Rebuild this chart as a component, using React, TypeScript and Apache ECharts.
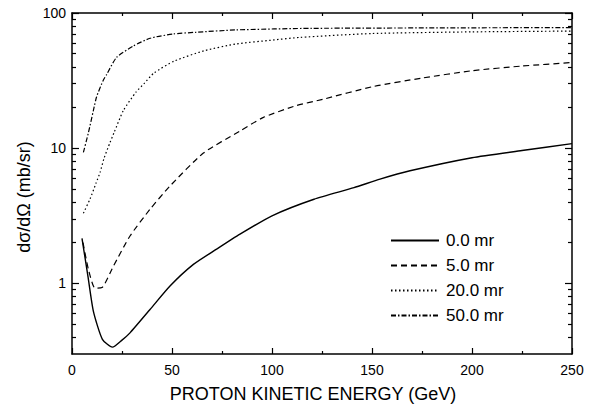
import React, { useEffect, useRef } from "react";
import * as echarts from "echarts";

const seriesNames = ["0.0 mr", "5.0 mr", "20.0 mr", "50.0 mr"];

const energy00 = [5, 8, 10.7, 15.2, 20.2, 25, 29, 39, 49, 60.7, 72.3, 84, 100, 121, 141, 154, 169, 200, 225, 250];
const value00 = [2.15, 1.12, 0.62, 0.385, 0.337, 0.38, 0.43, 0.64, 0.955, 1.38, 1.79, 2.31, 3.16, 4.19, 5.1, 5.9, 6.8, 8.5, 9.6, 10.8];

const energy05 = [5.5, 8.2, 11.5, 15, 20.7, 29, 39, 49, 65.7, 84, 95.7, 112, 125.5, 150.7, 175, 200, 225, 250];
const value05 = [2.0, 1.27, 0.92, 0.93, 1.34, 2.24, 3.53, 5.25, 9.2, 13.4, 16.9, 20.6, 23, 28.6, 33, 37.4, 40.5, 43];

const energy20 = [5.7, 9, 12, 14, 16, 19, 21, 25.7, 32, 36, 41, 51, 66, 82, 100, 114, 150, 200, 250];
const value20 = [3.3, 4.2, 5.5, 6.6, 8.4, 11, 13, 19, 26, 30, 36, 44, 52.5, 59, 63, 66, 70.5, 72.5, 73.5];

const energy50 = [5.7, 8.2, 10.7, 12.3, 15.7, 17.3, 22.3, 30.7, 39, 50.7, 62, 82, 120, 250];
const value50 = [9.3, 13, 19, 24, 32, 35, 47, 57, 65, 70, 72, 75, 77, 78];

const xTicks = [0, 50, 100, 150, 200, 250];
const yMajorTicks = [1, 10, 100];
const yMinorTicks = [0.4, 0.5, 0.6, 0.7, 0.8, 0.9, 2, 3, 4, 5, 6, 7, 8, 9, 20, 30, 40, 50, 60, 70, 80, 90];
const yMin = 0.3;
const yMax = 100;

const xTitle = "PROTON KINETIC ENERGY (GeV)";
const yTitle = "dσ/dΩ (mb/sr)";

const FONT = "'Liberation Sans', Arial, Helvetica, sans-serif";

function pairs(xs: number[], ys: number[]) {
  return xs.map((x, i) => [x, Math.log10(ys[i])]);
}

export default function App() {
  const ref = useRef<HTMLDivElement>(null);
  useEffect(() => {
    if (!ref.current) return;
    const chart = echarts.init(ref.current, undefined, { renderer: "svg" });
    const lmin = Math.log10(yMin);
    const lmax = Math.log10(yMax);
    const majorLog = yMajorTicks.map((v) => Math.log10(v));
    const minorLog = yMinorTicks.map((v) => Math.log10(v));
    const axisLine = { show: true, onZero: false, lineStyle: { color: "#000", width: 1.5 } };
    const hiddenLine = { show: true, onZero: false, lineStyle: { color: "#000", width: 0, opacity: 0 } };
    const tickStyle = { color: "#000", width: 1.2 };
    const xCommon = {
      type: "value" as const,
      min: 0,
      max: 250,
      interval: 50,
      axisLine,
      splitLine: { show: false },
      axisTick: { show: true, inside: true, length: 6, lineStyle: tickStyle },
      minorTick: { show: true, splitNumber: 2, length: 3, lineStyle: tickStyle },
    };
    const yCommon = {
      type: "value" as const,
      min: lmin,
      max: lmax,
      splitLine: { show: false },
    };
    const dashes: any[] = ["solid", [6, 4], [1.5, 2.5], [5, 2, 1.5, 2]];
    const datasets = [
      pairs(energy00, value00),
      pairs(energy05, value05),
      pairs(energy20, value20),
      pairs(energy50, value50),
    ];
    chart.setOption({
      animation: false,
      backgroundColor: "#fff",
      grid: { left: 72, right: 27, top: 13, bottom: 54, containLabel: false },
      xAxis: [
        {
          ...xCommon,
          position: "bottom",
          axisLabel: {
            show: true,
            margin: 9,
            fontSize: 14,
            color: "#000",
            fontFamily: FONT,
            customValues: xTicks,
          },
        },
        {
          ...xCommon,
          position: "top",
          axisLabel: { show: false },
        },
      ],
      yAxis: [
        {
          ...yCommon,
          position: "left",
          axisLine,
          axisTick: { show: true, inside: true, length: 7, customValues: majorLog, lineStyle: tickStyle },
          axisLabel: {
            show: true,
            margin: 6,
            fontSize: 14,
            color: "#000",
            fontFamily: FONT,
            customValues: majorLog,
            formatter: (v: number) => String(Math.round(Math.pow(10, v))),
          },
        },
        {
          ...yCommon,
          position: "right",
          axisLine,
          axisTick: { show: true, inside: true, length: 7, customValues: majorLog, lineStyle: tickStyle },
          axisLabel: { show: false },
        },
        {
          ...yCommon,
          position: "left",
          axisLine: hiddenLine,
          axisTick: { show: true, inside: true, length: 4, customValues: minorLog, lineStyle: tickStyle },
          axisLabel: { show: false },
        },
        {
          ...yCommon,
          position: "right",
          axisLine: hiddenLine,
          axisTick: { show: true, inside: true, length: 4, customValues: minorLog, lineStyle: tickStyle },
          axisLabel: { show: false },
        },
      ],
      legend: {
        show: true,
        orient: "vertical",
        left: 385,
        top: 227,
        itemWidth: 48,
        itemHeight: 14,
        itemGap: 8,
        data: seriesNames,
        itemStyle: { opacity: 0, borderWidth: 0 },
        textStyle: { fontSize: 17, color: "#000", fontFamily: FONT, padding: [0, 0, 0, 2] },
      },
      graphic: [
        {
          type: "text",
          x: 313,
          y: 394,
          style: {
            text: xTitle,
            fontSize: 18,
            fontFamily: FONT,
            fill: "#000",
            textAlign: "center",
            textVerticalAlign: "middle",
          },
        },
        {
          type: "text",
          x: 24,
          y: 197,
          rotation: Math.PI / 2,
          style: {
            text: yTitle,
            fontSize: 18,
            fontFamily: FONT,
            fill: "#000",
            textAlign: "center",
            textVerticalAlign: "middle",
          },
        },
      ],
      series: datasets.map((d, i) => ({
        name: seriesNames[i],
        type: "line",
        data: d,
        xAxisIndex: 0,
        yAxisIndex: 0,
        symbol: "none",
        showSymbol: false,
        smooth: 0.2,
        clip: true,
        lineStyle: { color: "#000", width: i === 0 ? 1.4 : 1.2, type: dashes[i] },
        itemStyle: { color: "#000" },
      })),
    });
    return () => chart.dispose();
  }, []);
  return (
    <div
      ref={ref}
      style={{ position: "fixed", left: 0, top: 0, width: 599, height: 408, background: "#fff" }}
    />
  );
}
